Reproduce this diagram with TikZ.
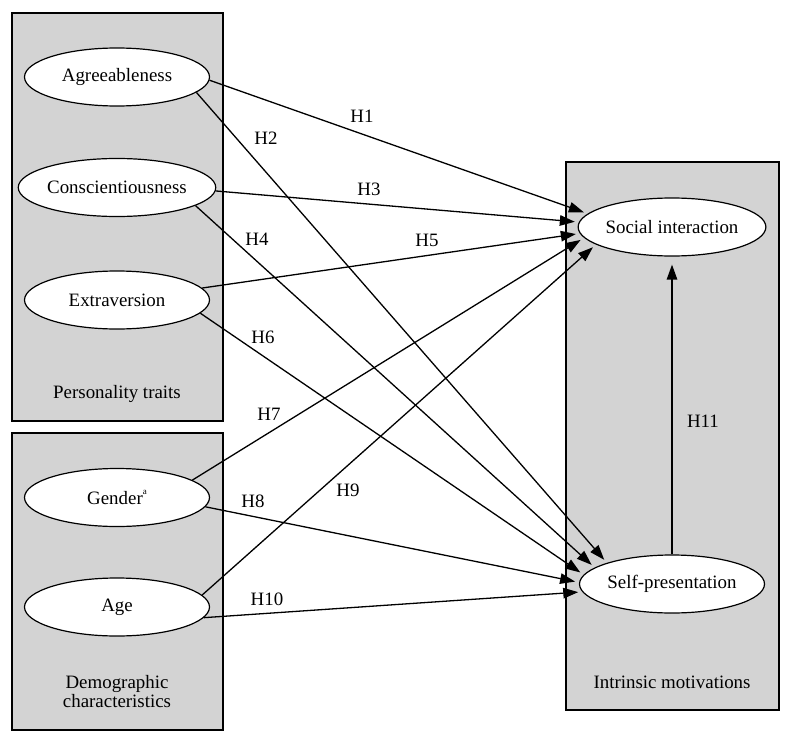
\documentclass[tikz,border=0pt]{standalone}
\usepackage{fontspec}
\setmainfont{Liberation Serif}
\usetikzlibrary{shapes.geometric,arrows.meta}
\definecolor{boxgray}{RGB}{211,211,211}
\tikzset{
  grpbox/.style={draw=black, line width=2.2pt, fill=boxgray},
  var/.style={ellipse, draw=black, line width=1.2pt, fill=white, minimum width=185pt, minimum height=58pt, inner sep=0pt, font=\fontsize{18.9}{22}\selectfont},
  lbl/.style={font=\fontsize{18.9}{22}\selectfont, inner sep=0pt},
  arr/.style={line width=1.3pt, -{Triangle[length=15pt,width=10.5pt]}, shorten >=4pt},
}
\begin{document}
\begin{tikzpicture}[x=1pt,y=-1pt]
\useasboundingbox (0,0) rectangle (797,749);
% group boxes
\draw[grpbox] (12,13) rectangle (223,421);
\draw[grpbox] (12,433) rectangle (223,730);
\draw[grpbox] (566,162) rectangle (779,710);
% group labels
\node[lbl] (lpers) at (117,394) {Personality traits};
\node[lbl, align=center] (ldemo) at (117,692) {Demographic\\[-3pt]characteristics};
\node[lbl] (lintr) at (672,682) {Intrinsic motivations};
% variables
\node[var] (agree) at (117,77) {Agreeableness};
\node[var] (consc) at (117,187.5) {Conscientiousness};
\node[var] (extra) at (117,300) {Extraversion};
\node[var] (gender) at (117,497.5) {Gender\raisebox{0.55em}{\fontsize{9}{9}\selectfont a}};
\node[var] (age) at (117,607) {Age};
\node[var] (si) at (672,227) {Social interaction};
\node[var] (sp) at (672,584) {Self-presentation};
% arrows
\draw[arr] (agree.-2) -- (si.171.4);
\draw[arr] (agree.-11.7) -- (sp.162.5);
\draw[arr] (consc.-2) -- (si.177);
\draw[arr] (consc.-13.7) -- (sp.168.8);
\draw[arr] (extra.8.9) -- (si.-176.4);
\draw[arr] (extra.-9.1) -- (sp.174.6);
\draw[arr] (gender.13) -- (si.187.7);
\draw[arr] (gender.-6.9) -- (sp.179.7);
\draw[arr] (age.8.5) -- (si.193.5);
\draw[arr] (age.-7.8) -- (sp.185);
\draw[arr, shorten >=8pt] (sp.north) -- (si.south);
% hypothesis labels
\node[lbl] (h1) at (362,116) {H1};
\node[lbl] (h2) at (266,138) {H2};
\node[lbl] (h3) at (369,189) {H3};
\node[lbl] (h4) at (257,239) {H4};
\node[lbl] (h5) at (427,240) {H5};
\node[lbl] (h6) at (263,337) {H6};
\node[lbl] (h7) at (269,414) {H7};
\node[lbl] (h8) at (253,501) {H8};
\node[lbl] (h9) at (348,490) {H9};
\node[lbl] (h10) at (267,599) {H10};
\node[lbl] (h11) at (703,421) {H11};
\end{tikzpicture}
\end{document}
